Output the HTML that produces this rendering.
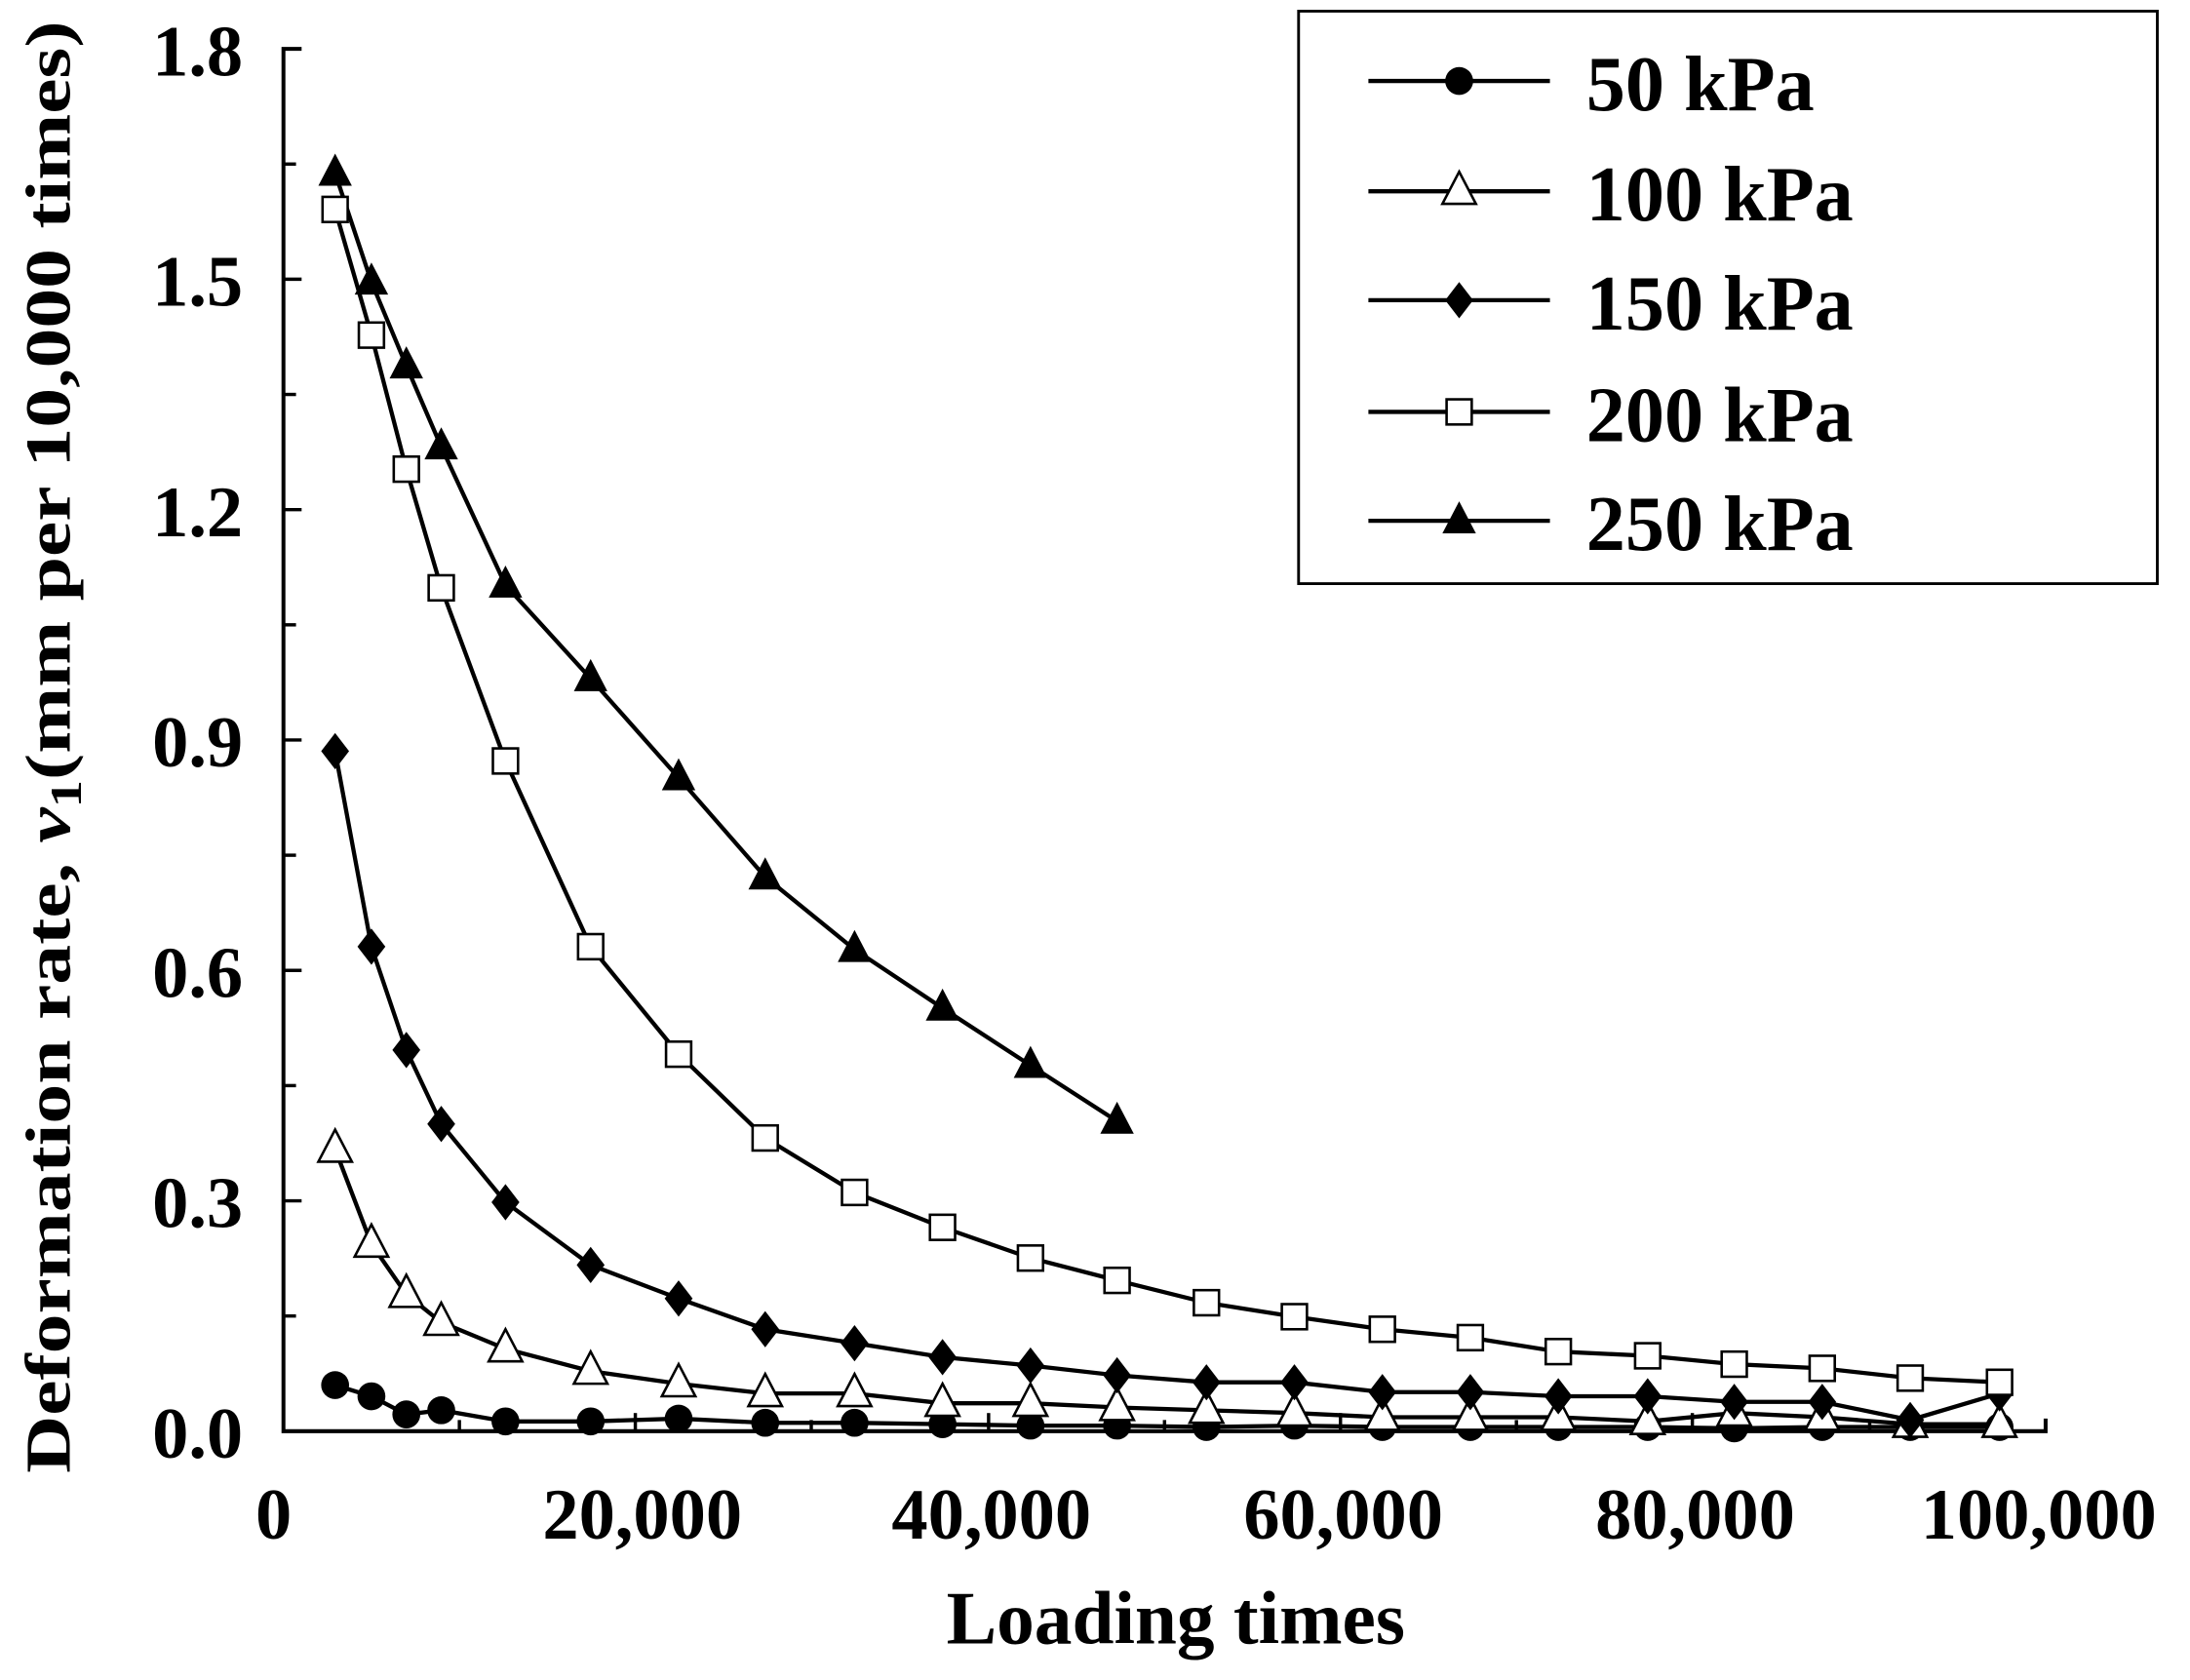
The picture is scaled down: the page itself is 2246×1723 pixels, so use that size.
<!DOCTYPE html>
<html><head><style>html,body{margin:0;padding:0;background:#fff}svg{display:block}</style></head>
<body>
<svg width="2246" height="1723" viewBox="0 0 1568.4 1203.2" preserveAspectRatio="none" xmlns="http://www.w3.org/2000/svg" font-family="'Liberation Serif',serif" font-weight="bold">
<defs>
<circle id="c" r="10" fill="#000"/>
<polygon id="t" points="0,-14 12,9 -12,9" fill="#fff" stroke="#000" stroke-width="1.8"/>
<polygon id="tf" points="0,-14 12,9 -12,9" fill="#000"/>
<rect id="s" x="-9" y="-9" width="18" height="18" fill="#fff" stroke="#000" stroke-width="1.8"/>
<polygon id="d" points="0,-13 10,0 0,13 -10,0" fill="#000"/>
</defs>
<g stroke="#000" stroke-width="2.8" fill="none">
<polyline points="216,35 203,35 203,1025 1465,1025 1465,1016"/>
</g>
<g stroke="#000" stroke-width="2.4">
<line x1="203" y1="117.5" x2="212" y2="117.5"/>
<line x1="203" y1="200" x2="216" y2="200"/>
<line x1="203" y1="282.5" x2="212" y2="282.5"/>
<line x1="203" y1="365" x2="216" y2="365"/>
<line x1="203" y1="447.5" x2="212" y2="447.5"/>
<line x1="203" y1="530" x2="216" y2="530"/>
<line x1="203" y1="612.5" x2="212" y2="612.5"/>
<line x1="203" y1="695" x2="216" y2="695"/>
<line x1="203" y1="777.5" x2="212" y2="777.5"/>
<line x1="203" y1="860" x2="216" y2="860"/>
<line x1="203" y1="942.5" x2="212" y2="942.5"/>
<line x1="329" y1="1025" x2="329" y2="1017"/>
<line x1="455" y1="1025" x2="455" y2="1012"/>
<line x1="581" y1="1025" x2="581" y2="1017"/>
<line x1="708" y1="1025" x2="708" y2="1012"/>
<line x1="834" y1="1025" x2="834" y2="1017"/>
<line x1="960" y1="1025" x2="960" y2="1012"/>
<line x1="1086" y1="1025" x2="1086" y2="1017"/>
<line x1="1212" y1="1025" x2="1212" y2="1012"/>
<line x1="1339" y1="1025" x2="1339" y2="1017"/>
</g>
<g font-size="52" text-anchor="end">
<text x="174" y="54">1.8</text>
<text x="174" y="219">1.5</text>
<text x="174" y="384">1.2</text>
<text x="174" y="549">0.9</text>
<text x="174" y="714">0.6</text>
<text x="174" y="879">0.3</text>
<text x="174" y="1044">0.0</text>
</g>
<g font-size="52" text-anchor="middle">
<text x="196" y="1102">0</text>
<text x="460" y="1102">20,000</text>
<text x="710" y="1102">40,000</text>
<text x="962" y="1102">60,000</text>
<text x="1214" y="1102">80,000</text>
<text x="1460" y="1102">100,000</text>
</g>
<text x="842" y="1177" font-size="54" text-anchor="middle">Loading times</text>
<text transform="translate(50,535) rotate(-90)" font-size="46" text-anchor="middle" textLength="1040" lengthAdjust="spacingAndGlyphs">Deformation rate, <tspan font-style="italic">v</tspan><tspan font-size="32" dy="8">1</tspan><tspan dy="-8">(mm per 10,000 times)</tspan></text>
<g fill="none" stroke="#000" stroke-width="3">
<polyline points="240,992 266,1000 291,1013 316,1010 362,1018 423,1018 486,1016 548,1019 612,1019 675,1020 738,1021 800,1021 864,1022 927,1021 990,1022 1053,1022 1116,1022 1180,1022 1242,1023 1305,1022 1368,1022 1432,1022"/>
<polyline points="240,823 266,891 291,927 316,947 362,966 423,982 486,991 548,998 612,998 675,1005 738,1005 800,1008 864,1010 927,1012 990,1015 1053,1015 1116,1015 1180,1018 1242,1012 1305,1015 1368,1020 1432,1020"/>
<polyline points="240,538 266,678 291,752 316,805 362,861 423,906 486,930 548,952 612,962 675,972 738,978 800,985 864,990 927,990 990,997 1053,997 1116,1000 1180,1000 1242,1004 1305,1004 1368,1017 1432,998"/>
<polyline points="240,150 266,240 291,336 316,421 362,545 423,678 486,755 548,815 612,854 675,879 738,901 800,917 864,933 927,943 990,952 1053,958 1116,968 1180,971 1242,977 1305,980 1368,987 1432,990"/>
<polyline points="240,124 266,202 291,262 316,320 362,419 423,486 486,557 548,628 612,680 675,722 738,763 800,803"/>
</g>
<g>
<use href="#c" x="240" y="992"/><use href="#c" x="266" y="1000"/><use href="#c" x="291" y="1013"/><use href="#c" x="316" y="1010"/><use href="#c" x="362" y="1018"/><use href="#c" x="423" y="1018"/><use href="#c" x="486" y="1016"/><use href="#c" x="548" y="1019"/><use href="#c" x="612" y="1019"/><use href="#c" x="675" y="1020"/><use href="#c" x="738" y="1021"/><use href="#c" x="800" y="1021"/><use href="#c" x="864" y="1022"/><use href="#c" x="927" y="1021"/><use href="#c" x="990" y="1022"/><use href="#c" x="1053" y="1022"/><use href="#c" x="1116" y="1022"/><use href="#c" x="1180" y="1022"/><use href="#c" x="1242" y="1023"/><use href="#c" x="1305" y="1022"/><use href="#c" x="1368" y="1022"/><use href="#c" x="1432" y="1022"/>
<use href="#t" x="240" y="823"/><use href="#t" x="266" y="891"/><use href="#t" x="291" y="927"/><use href="#t" x="316" y="947"/><use href="#t" x="362" y="966"/><use href="#t" x="423" y="982"/><use href="#t" x="486" y="991"/><use href="#t" x="548" y="998"/><use href="#t" x="612" y="998"/><use href="#t" x="675" y="1005"/><use href="#t" x="738" y="1005"/><use href="#t" x="800" y="1008"/><use href="#t" x="864" y="1010"/><use href="#t" x="927" y="1012"/><use href="#t" x="990" y="1015"/><use href="#t" x="1053" y="1015"/><use href="#t" x="1116" y="1015"/><use href="#t" x="1180" y="1018"/><use href="#t" x="1242" y="1012"/><use href="#t" x="1305" y="1015"/><use href="#t" x="1368" y="1020"/><use href="#t" x="1432" y="1020"/>
<use href="#d" x="240" y="538"/><use href="#d" x="266" y="678"/><use href="#d" x="291" y="752"/><use href="#d" x="316" y="805"/><use href="#d" x="362" y="861"/><use href="#d" x="423" y="906"/><use href="#d" x="486" y="930"/><use href="#d" x="548" y="952"/><use href="#d" x="612" y="962"/><use href="#d" x="675" y="972"/><use href="#d" x="738" y="978"/><use href="#d" x="800" y="985"/><use href="#d" x="864" y="990"/><use href="#d" x="927" y="990"/><use href="#d" x="990" y="997"/><use href="#d" x="1053" y="997"/><use href="#d" x="1116" y="1000"/><use href="#d" x="1180" y="1000"/><use href="#d" x="1242" y="1004"/><use href="#d" x="1305" y="1004"/><use href="#d" x="1368" y="1017"/><use href="#d" x="1432" y="998"/>
<use href="#s" x="240" y="150"/><use href="#s" x="266" y="240"/><use href="#s" x="291" y="336"/><use href="#s" x="316" y="421"/><use href="#s" x="362" y="545"/><use href="#s" x="423" y="678"/><use href="#s" x="486" y="755"/><use href="#s" x="548" y="815"/><use href="#s" x="612" y="854"/><use href="#s" x="675" y="879"/><use href="#s" x="738" y="901"/><use href="#s" x="800" y="917"/><use href="#s" x="864" y="933"/><use href="#s" x="927" y="943"/><use href="#s" x="990" y="952"/><use href="#s" x="1053" y="958"/><use href="#s" x="1116" y="968"/><use href="#s" x="1180" y="971"/><use href="#s" x="1242" y="977"/><use href="#s" x="1305" y="980"/><use href="#s" x="1368" y="987"/><use href="#s" x="1432" y="990"/>
<use href="#tf" x="240" y="124"/><use href="#tf" x="266" y="202"/><use href="#tf" x="291" y="262"/><use href="#tf" x="316" y="320"/><use href="#tf" x="362" y="419"/><use href="#tf" x="423" y="486"/><use href="#tf" x="486" y="557"/><use href="#tf" x="548" y="628"/><use href="#tf" x="612" y="680"/><use href="#tf" x="675" y="722"/><use href="#tf" x="738" y="763"/><use href="#tf" x="800" y="803"/>
</g>
<rect x="930" y="8" width="615" height="410" fill="#fff" stroke="#000" stroke-width="2"/>
<g stroke="#000" stroke-width="3">
<line x1="980" y1="58" x2="1110" y2="58"/>
<line x1="980" y1="137" x2="1110" y2="137"/>
<line x1="980" y1="215" x2="1110" y2="215"/>
<line x1="980" y1="295" x2="1110" y2="295"/>
<line x1="980" y1="373" x2="1110" y2="373"/>
</g>
<use href="#c" x="1045" y="58"/><use href="#t" x="1045" y="137"/><use href="#d" x="1045" y="215"/><use href="#s" x="1045" y="295"/><use href="#tf" x="1045" y="373"/>
<g font-size="56">
<text x="1136" y="79">50 kPa</text>
<text x="1136" y="158">100 kPa</text>
<text x="1136" y="236">150 kPa</text>
<text x="1136" y="316">200 kPa</text>
<text x="1136" y="394">250 kPa</text>
</g>
</svg>
</body></html>
